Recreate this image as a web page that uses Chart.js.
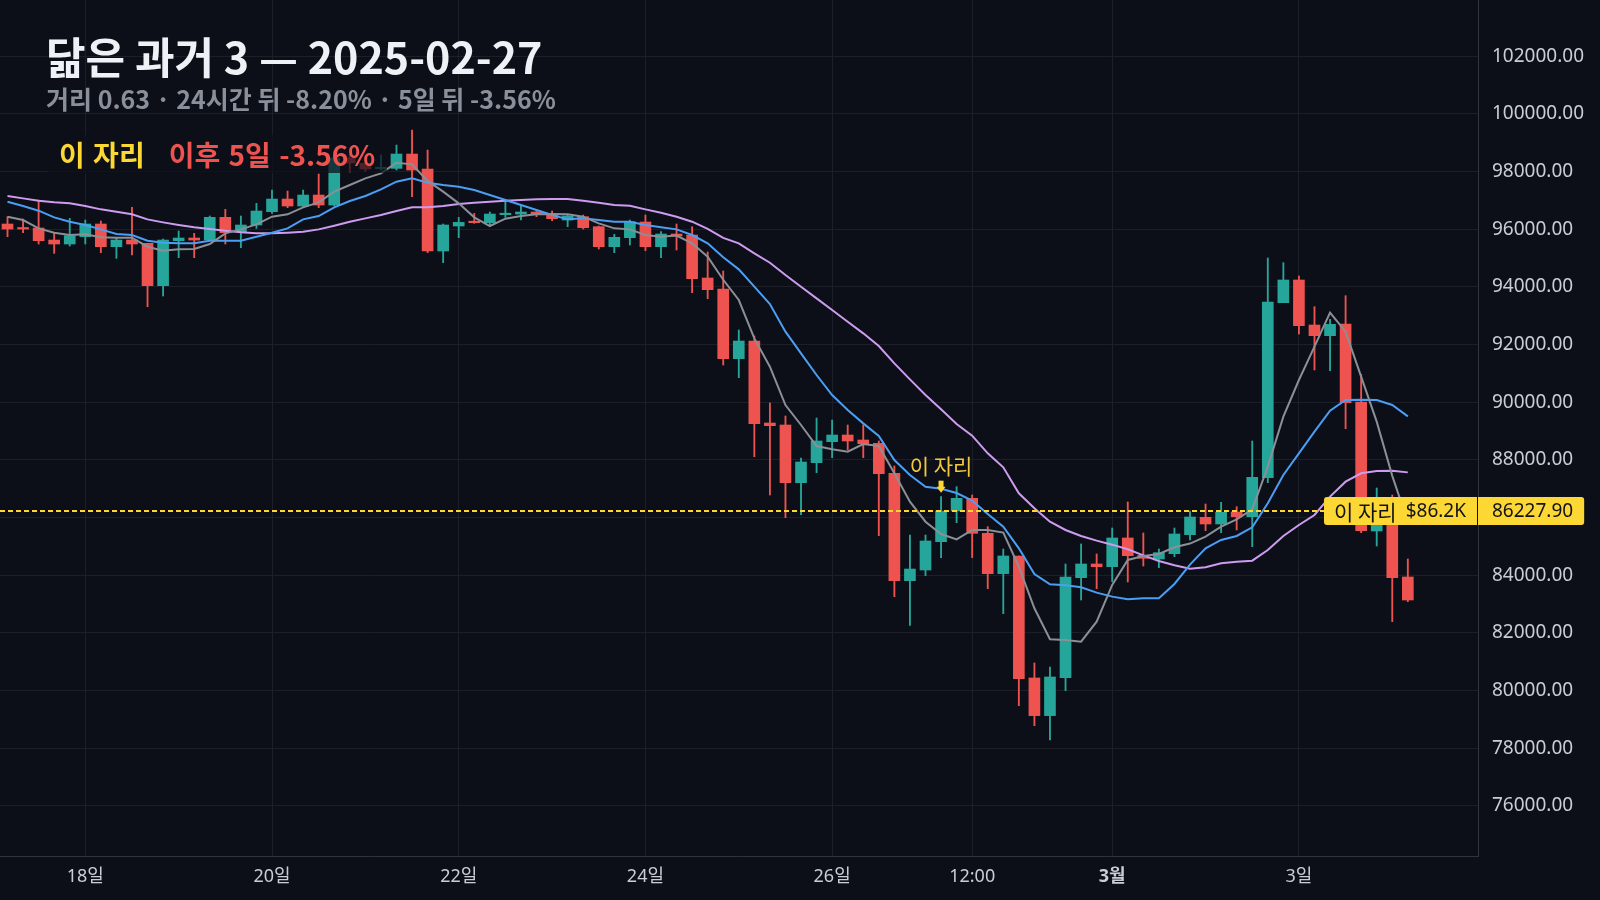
<!DOCTYPE html>
<html>
<head>
<meta charset="utf-8">
<script src="https://cdn.jsdelivr.net/npm/chart.js@4.4.1/dist/chart.umd.min.js"></script>
<style>
html,body{margin:0;padding:0;background:#0c0f17;}
#wrap{position:relative;width:1600px;height:900px;overflow:hidden;background:#0c0f17;}
#c{position:absolute;left:0;top:0;}
.ov{position:absolute;font-family:'Noto Sans CJK KR','Noto Sans',sans-serif;font-weight:700;white-space:nowrap;line-height:1;}
#title{left:46px;top:34px;font-size:43px;color:#eef1f5;}
#sub{left:46px;top:86px;font-size:25px;color:#8a909b;}
#note{left:47px;top:135px;height:38px;line-height:38px;padding:0 12px;font-size:28px;background:rgba(12,15,23,0.72);border-radius:4px;word-spacing:2px;}
#note .a{color:#fdd835;}
#note .b{color:#ef5350;margin-left:24px;}
</style>
</head>
<body>
<div id="wrap">
<canvas id="c" width="1600" height="900"></canvas>
<div id="title" class="ov">닮은 과거 3 — 2025-02-27</div>
<div id="sub" class="ov">거리 0.63 · 24시간 뒤 -8.20% · 5일 뒤 -3.56%</div>
<div id="note" class="ov"><span class="a">이 자리</span><span class="b">이후 5일 -3.56%</span></div>
</div>
<script>
// ---- data (4h candles, Feb 17 04:00 .. Mar 4 04:00) ----
const opens = [96184,96045,96045,95628,95490,95744,96184,95397,95628,95513,
 94045,95605,95698,95628,96415,95917,96149,96611,97050,96808,
 97189,96842,98470,98287,98100,98114,98611,98091,95247,96114,
 96264,96230,96507,96530,96600,96530,96322,96438,96091,95397,
 95710,96253,95397,95837,95802,94311,93930,91513,92126,89282,
 89213,87213,87907,88635,88866,88693,88577,87537,83814,84184,
 85167,86231,86670,85456,84058,84670,80440,79133,80451,83919,
 84393,84300,85295,84693,84566,84751,85410,86011,85780,86196,
 86034,87387,93456,94242,92681,92311,92716,90011,85537,85900,
 83942];
const highs = [96438,96357,97016,95860,96380,96322,96287,95686,96761,95513,
 95663,95941,95860,96461,96692,96461,96900,97362,97328,97362,
 97917,98715,98600,98350,98576,98923,99443,98750,96184,96415,
 96553,96600,96958,96842,96669,96634,96495,96495,96114,95825,
 96322,96495,95917,96184,96091,95213,94554,92508,92300,89976,
 89525,88069,89456,89386,89213,89213,88658,87791,85398,85398,
 86727,87075,86786,85688,84913,84670,80960,80821,84393,85087,
 84740,85641,86543,85468,84913,85641,86231,86473,86531,86381,
 88658,95005,94843,94381,93317,92878,93698,90970,87028,86786,
 84566];
const lows = [95744,95883,95490,95166,95420,95490,95189,94993,95108,93316,
 93686,95016,95016,95605,95490,95362,96033,96553,96750,96761,
 96750,96808,97964,98000,98056,98056,97131,95189,94842,95710,
 96206,96114,96415,96322,96438,96300,96091,96010,95316,95189,
 95455,95259,95016,95282,93802,93594,91294,90855,88115,86785,
 85999,86103,87560,88080,88346,88080,85375,83260,82260,83989,
 84612,85826,84613,83537,82670,79480,78786,78289,80000,83144,
 83537,83780,83769,84323,84266,84647,85225,85549,85479,85572,
 84994,87213,93456,92369,91121,91098,89086,85479,85017,82392,
 83085];
const closes = [96010,96010,95605,95490,95779,96184,95397,95628,95490,94045,
 95628,95698,95628,96415,95883,96149,96634,97050,96808,97189,
 96842,98470,98300,98091,98114,98611,98056,95247,96149,96241,
 96230,96530,96553,96600,96530,96368,96461,96056,95397,95721,
 96264,95397,95837,95767,94288,93906,91513,92126,89259,89190,
 87213,87930,88658,88866,88658,88566,87525,83814,84218,85190,
 86227.9,86670,85456,84058,84670,80416,79133,80474,83942,84393,
 84300,85295,84682,84590,84786,85433,86023,85780,86184,86034,
 87398,93479,94242,92658,92311,92704,89988,85548,85900,83918,
 83144];
const maFast = [96438,96322,96033,95883,95802,95825,95721,95709,95709,95397,
 95259,95305,95316,95490,95860,95998,96172,96438,96519,96761,
 96935,97305,97536,97767,97940,98310,98253,97680,97305,96900,
 96415,96114,96368,96461,96519,96530,96519,96438,96206,96033,
 95998,95802,95744,95785,95513,95050,94250,93548,92218,91236,
 89906,89213,88484,88369,88288,88554,88484,87536,86554,85860,
 85432,85248,85572,85572,85480,84300,82855,81780,81757,81699,
 82393,83665,84532,84670,84740,84971,85100,85341,85687,85942,
 86288,87768,89502,90774,91930,93109,92450,90889,89329,87450,
 85850];
const maMid = [96958,96808,96646,96415,96264,96149,95998,95837,95802,95605,
 95536,95513,95513,95605,95605,95605,95744,95883,96033,96345,
 96461,96761,96981,97154,97386,97651,97767,97617,97540,97478,
 97362,97189,97016,96842,96669,96495,96345,96380,96322,96264,
 96264,96149,96068,95998,95802,95513,95028,94611,94010,93409,
 92450,91698,90947,90253,89733,89270,88831,87999,87479,87074,
 87000,86855,86589,86127,85688,84936,84046,83688,83653,83584,
 83399,83260,83168,83202,83202,83699,84370,84936,85225,85364,
 85664,86497,87479,88231,88982,89710,90080,90092,90080,89907,
 89514];
const maSlow = [97154,97073,96993,96935,96900,96808,96692,96611,96519,96345,
 96241,96149,96068,96010,95952,95894,95860,95860,95883,95917,
 95998,96126,96264,96380,96495,96634,96761,96761,96807,96877,
 96923,96958,96993,97016,97039,97050,97050,96993,96923,96842,
 96819,96692,96576,96438,96264,96015,95700,95513,95166,94842,
 94415,94010,93605,93201,92796,92392,91952,91351,90796,90253,
 89756,89247,88843,88231,87745,86844,86323,85861,85572,85364,
 85202,85063,84902,84693,84497,84347,84230,84277,84416,84474,
 84508,84878,85364,85745,86092,86728,87248,87537,87620,87630,
 87570];
const tickIndex  = [5, 17, 29, 41, 53, 62, 71, 83];
const tickLabels = ['18일','20일','22일','24일','26일','12:00','3월','3일'];
const priceTicks = [76000,78000,80000,82000,84000,86000,88000,90000,92000,94000,96000,98000,100000,102000];
const markIndex = 60;
const markText = '이 자리';
const priceLine = 86227.90;
const priceLineName = '이 자리';
const priceLineShort = '$86.2K';

// ---- styles ----
const UP = '#26a69a', DOWN = '#ef5350';
const GRID = '#1c1f28', BORDER = '#30343d', TXT = '#c9cdd4';
const FONT = "'Noto Sans','Noto Sans CJK KR',sans-serif";
const KFONT = "'Noto Sans CJK KR','Noto Sans',sans-serif";
const YEL = '#fdd835';

const candleColors = opens.map((o, i) => closes[i] >= o ? UP : DOWN);
const wickData = highs.map((h, i) => ({x: i, y: [lows[i], h]}));
const bodyData = opens.map((o, i) => ({x: i, y: [o, closes[i]]}));
const toXY = arr => arr.map((v, i) => ({x: i, y: v}));

const overlay = {
  id: 'overlay',
  afterDatasetsDraw(chart) {
    const {ctx, chartArea: a, scales: {x, y}} = chart;
    const py = y.getPixelForValue(priceLine);
    ctx.save();
    // dashed price line
    ctx.strokeStyle = YEL; ctx.lineWidth = 2; ctx.setLineDash([5, 3]);
    ctx.beginPath(); ctx.moveTo(a.left, py); ctx.lineTo(a.right, py); ctx.stroke();
    ctx.setLineDash([]);
    // marker above candle
    const mx = x.getPixelForValue(markIndex);
    const my = y.getPixelForValue(highs[markIndex]);
    ctx.fillStyle = YEL;
    ctx.fillRect(mx - 2.5, my - 16, 5, 7);
    ctx.beginPath(); ctx.moveTo(mx - 4.5, my - 10); ctx.lineTo(mx + 4.5, my - 10); ctx.lineTo(mx, my - 4); ctx.closePath(); ctx.fill();
    ctx.font = '21px ' + KFONT; ctx.fillStyle = '#f2c83c';
    ctx.textAlign = 'center'; ctx.textBaseline = 'alphabetic';
    ctx.fillText(markText, mx, my - 23);
    // label in pane
    const f1 = '21px ' + KFONT, f2 = '19px ' + FONT;
    ctx.font = f1; const w1 = ctx.measureText(priceLineName).width;
    ctx.font = f2; const w2 = ctx.measureText(priceLineShort).width;
    const gap = 9;
    const bw = w1 + gap + w2 + 21, bh = 28;
    const bx = a.right - bw - 1;
    ctx.fillStyle = YEL;
    ctx.beginPath(); ctx.roundRect(bx, py - bh / 2, bw, bh, [3, 0, 0, 3]); ctx.fill();
    ctx.fillStyle = '#111318'; ctx.textAlign = 'left'; ctx.textBaseline = 'middle';
    ctx.font = f1; ctx.fillText(priceLineName, bx + 10, py + 1);
    ctx.font = f2; ctx.fillText(priceLineShort, bx + 10 + w1 + gap, py + 1);
    ctx.restore();
  },
  afterDraw(chart) {
    const {ctx, chartArea: a, scales: {y}} = chart;
    const py = y.getPixelForValue(priceLine);
    ctx.save();
    ctx.font = '19px ' + FONT;
    const t = priceLine.toFixed(2);
    const tw = ctx.measureText(t).width;
    ctx.fillStyle = YEL;
    ctx.beginPath(); ctx.roundRect(a.right, py - 14, tw + 25, 28, [0, 3, 3, 0]); ctx.fill();
    ctx.fillStyle = '#111318'; ctx.textAlign = 'left'; ctx.textBaseline = 'middle';
    ctx.fillText(t, a.right + 14, py + 1);
    ctx.restore();
  }
};

new Chart(document.getElementById('c'), {
  type: 'bar',
  data: {
    datasets: [
      {type: 'line', label: 'fast', data: toXY(maFast), borderColor: '#8b8f96', borderWidth: 2, pointRadius: 0, tension: 0, fill: false},
      {type: 'line', label: 'mid', data: toXY(maMid), borderColor: '#4a9ff5', borderWidth: 2, pointRadius: 0, tension: 0, fill: false},
      {type: 'line', label: 'slow', data: toXY(maSlow), borderColor: '#cd9cf0', borderWidth: 2, pointRadius: 0, tension: 0, fill: false},
      {type: 'bar', label: 'body', data: bodyData, backgroundColor: candleColors, barThickness: 11, grouped: false, borderWidth: 0, minBarLength: 1.5, borderSkipped: false},
      {type: 'bar', label: 'wick', data: wickData, backgroundColor: candleColors, barThickness: 1.2, grouped: false, borderWidth: 0, borderSkipped: false}
    ]
  },
  options: {
    responsive: false,
    animation: false,
    layout: {padding: 0},
    plugins: {legend: {display: false}, tooltip: {enabled: false}, title: {display: false}},
    scales: {
      x: {
        type: 'linear', min: -0.482, max: 94.51, offset: false,
        grid: {color: GRID, drawTicks: false, offset: false},
        border: {color: BORDER, width: 1},
        afterBuildTicks: s => { s.ticks = tickIndex.map(v => ({value: v})); },
        afterFit: s => { s.height = 44; s.paddingLeft = 0; s.paddingRight = 0; },
        ticks: {
          autoSkip: false, maxRotation: 0, padding: 10, color: TXT,
          font: c => ({family: FONT, size: 18, weight: tickLabels[c.index] === '3월' ? 'bold' : 'normal'}),
          callback: (v, i) => tickLabels[i]
        }
      },
      y: {
        type: 'linear', position: 'right', min: 74265, max: 103953,
        grid: {color: GRID, drawTicks: false},
        border: {color: BORDER, width: 1},
        afterBuildTicks: s => { s.ticks = priceTicks.map(v => ({value: v})); },
        afterFit: s => { s.width = 122; s.paddingTop = 0; s.paddingBottom = 0; },
        ticks: {padding: 14, color: TXT, font: {family: FONT, size: 19}, callback: v => Number(v).toFixed(2)}
      }
    }
  },
  plugins: [overlay]
});
</script>
</body>
</html>
